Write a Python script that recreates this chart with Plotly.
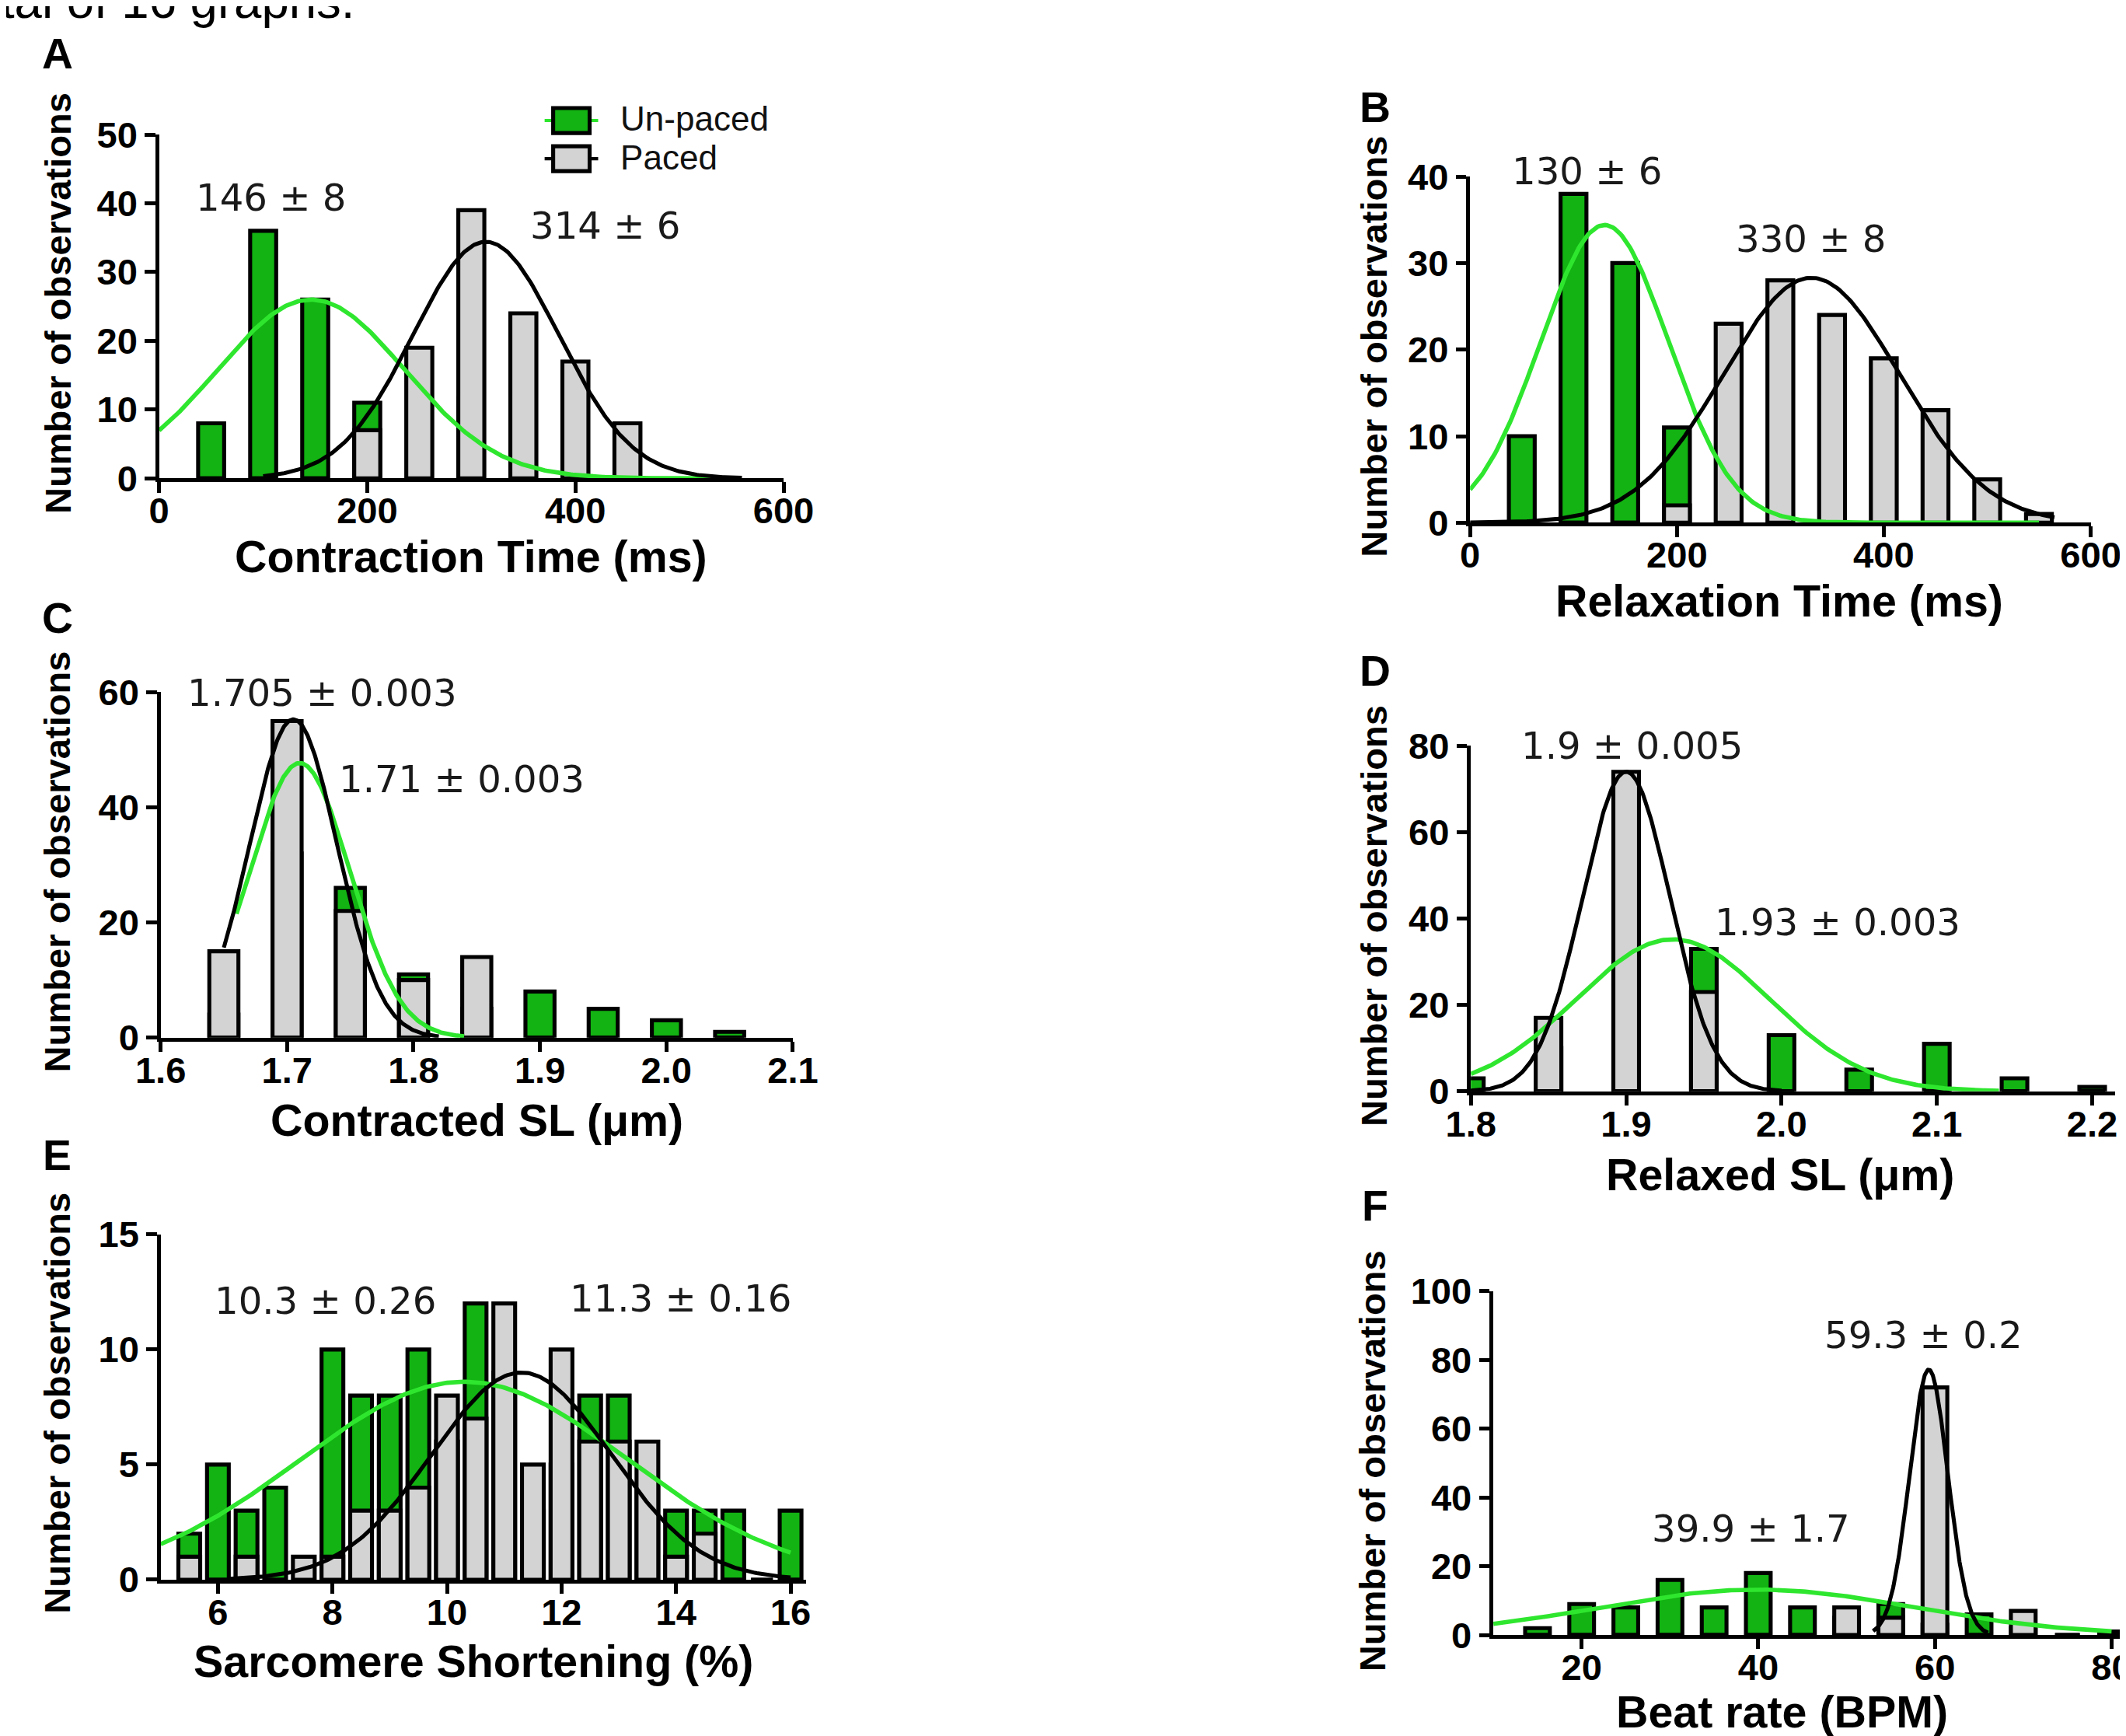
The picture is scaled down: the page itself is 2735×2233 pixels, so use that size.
import numpy as np
import plotly.graph_objects as go

# The photographed page shows the figure scaled by ~0.976 and shifted by ~34 px,
# so positions are given in reference-picture pixels (R) and mapped back.
SC, OFF = 0.976, 34
WF = int(np.ceil((2735 - OFF) / SC))
HF = int(np.ceil((2233 - OFF) / SC))

# ---------------- data ----------------
a_bins = [50, 100, 150, 200, 250, 300, 350, 400, 450]
a_unpaced = [8, 36, 26, 11, 0, 0, 0, 0, 0]
a_paced = [0, 0, 0, 7, 19, 39, 24, 17, 8]

b_bins = [50, 100, 150, 200, 250, 300, 350, 400, 450, 500, 550]
b_unpaced = [10, 38, 30, 11, 0, 0, 0, 0, 0, 0, 0]
b_paced = [0, 0, 0, 2, 23, 28, 24, 19, 13, 5, 1]

c_bins = [1.65, 1.70, 1.75, 1.80, 1.85, 1.90, 1.95, 2.00, 2.05]
c_unpaced = [4, 32, 26, 11, 5, 8, 5, 3, 1]
c_paced = [15, 55, 22, 10, 14, 0, 0, 0, 0]

d_bins = [1.80, 1.85, 1.90, 1.95, 2.00, 2.05, 2.10, 2.15, 2.20]
d_unpaced = [3, 10, 30, 33, 13, 5, 11, 3, 1]
d_paced = [0, 17, 74, 23, 0, 0, 0, 0, 0]

e_bins = [5.5, 6.0, 6.5, 7.0, 7.5, 8.0, 8.5, 9.0, 9.5, 10.0, 10.5, 11.0,
          11.5, 12.0, 12.5, 13.0, 13.5, 14.0, 14.5, 15.0, 15.5, 16.0]
e_unpaced = [2, 5, 3, 4, 0, 10, 8, 8, 10, 6, 12, 9, 3, 5, 8, 8, 4, 3, 3, 3, 0, 3]
e_paced = [1, 0, 1, 0, 1, 1, 3, 3, 4, 8, 7, 12, 5, 10, 6, 6, 6, 1, 2, 0, 0, 0]

f_bins = [15, 20, 25, 30, 35, 40, 45, 50, 55, 60, 65, 70, 75, 80]
f_unpaced = [2, 9, 8, 16, 8, 18, 8, 5, 9, 3, 6, 2, 0, 1]
f_paced = [0, 0, 0, 0, 0, 0, 0, 8, 5, 72, 0, 7, 0, 0]

# Gaussian fit parameters: [amplitude, mean, sd, x_start, x_end]
a_fit_unpaced = [26.0, 146, 90, 0, 540]
a_fit_paced = [34.4, 314, 70, 100, 560]
b_fit_unpaced = [34.4, 130, 62, 0, 550]
b_fit_paced = [28.3, 330, 85, 0, 565]
c_fit_unpaced = [47.7, 1.71, 0.0396, 1.66, 1.84]
c_fit_paced = [55.3, 1.705, 0.0346, 1.65, 1.82]
d_fit_unpaced = [35.2, 1.93, 0.0623, 1.80, 2.14]
d_fit_paced = [74.0, 1.90, 0.0282, 1.80, 2.00]
e_fit_unpaced = [8.6, 10.3, 2.86, 5.0, 16.0]
e_fit_paced = [9.0, 11.3, 1.563, 6.2, 16.0]
f_fit_unpaced = [13.2, 39.9, 17.8, 10, 80]
f_fit_paced = [77.2, 59.3, 2.17, 53, 66]

stats = {
    "A": ["146 ± 8", "314 ± 6"],
    "B": ["130 ± 6", "330 ± 8"],
    "C": ["1.705 ± 0.003", "1.71 ± 0.003"],
    "D": ["1.9 ± 0.005", "1.93 ± 0.003"],
    "E": ["10.3 ± 0.26", "11.3 ± 0.16"],
    "F": ["59.3 ± 0.2", "39.9 ± 1.7"],
}
x_titles = {
    "A": "Contraction Time (ms)", "B": "Relaxation Time (ms)",
    "C": "Contracted SL (μm)", "D": "Relaxed SL (μm)",
    "E": "Sarcomere Shortening (%)", "F": "Beat rate (BPM)",
}
y_title = "Number of observations"
legend_labels = ["Un-paced", "Paced"]
top_text = "total of 16 graphs."

# ---------------- styling (sizes as seen in the picture) ----------------
GREEN_BAR = "#12b312"
GREEN_LINE = "#2fe62f"
GRAY_BAR = "#d3d3d3"
AX_FONT = "Liberation Sans, Arial, sans-serif"
ST_FONT = "DejaVu Sans, Verdana, sans-serif"


def S(v):
    return v / SC


LW = S(5)


def X(r):
    return (r - OFF) / SC / WF


def Y(r):
    return 1 - (r - OFF) / SC / HF


panels = {
    "A": dict(xd=(198, 1003), yd=(172, 614), xr=[0, 600], yr=[0, 50],
              xt=[0, 200, 400, 600], yt=[0, 10, 20, 30, 40, 50], fmt="",
              bins=a_bins, un=a_unpaced, pa=a_paced, fu=a_fit_unpaced, fp=a_fit_paced, bw=25),
    "B": dict(xd=(1888, 2688), yd=(226, 671), xr=[0, 600], yr=[0, 40],
              xt=[0, 200, 400, 600], yt=[0, 10, 20, 30, 40], fmt="",
              bins=b_bins, un=b_unpaced, pa=b_paced, fu=b_fit_unpaced, fp=b_fit_paced, bw=25),
    "C": dict(xd=(200, 1015), yd=(889, 1333), xr=[1.6, 2.1], yr=[0, 60],
              xt=[1.6, 1.7, 1.8, 1.9, 2.0, 2.1], yt=[0, 20, 40, 60], fmt=".1f",
              bins=c_bins, un=c_unpaced, pa=c_paced, fu=c_fit_unpaced, fp=c_fit_paced, bw=0.023),
    "D": dict(xd=(1889, 2720), yd=(958, 1402), xr=[1.8, 2.215], yr=[0, 80],
              xt=[1.8, 1.9, 2.0, 2.1, 2.2], yt=[0, 20, 40, 60, 80], fmt=".1f",
              bins=d_bins, un=d_unpaced, pa=d_paced, fu=d_fit_unpaced, fp=d_fit_paced, bw=0.0165),
    "E": dict(xd=(200, 1032), yd=(1586, 2030), xr=[5.0, 16.27], yr=[0, 15],
              xt=[6, 8, 10, 12, 14, 16], yt=[0, 5, 10, 15], fmt="",
              bins=e_bins, un=e_unpaced, pa=e_paced, fu=e_fit_unpaced, fp=e_fit_paced, bw=0.38),
    "F": dict(xd=(1918, 2735), yd=(1659, 2101), xr=[10, 81.76], yr=[0, 100],
              xt=[20, 40, 60, 80], yt=[0, 20, 40, 60, 80, 100], fmt="",
              bins=f_bins, un=f_unpaced, pa=f_paced, fu=f_fit_unpaced, fp=f_fit_paced, bw=2.8),
}

letter_pos = {"A": (67, 68), "B": (1766, 137), "C": (67, 794),
              "D": (1766, 862), "E": (67, 1484), "F": (1766, 1549)}
xtitle_pos = {"A": (600, 715), "B": (2287, 772), "C": (608, 1439),
              "D": (2288, 1509), "E": (603, 2135), "F": (2290, 2200)}
ytitle_pos = {"A": (67, 389), "B": (1764, 444), "C": (67, 1107),
              "D": (1764, 1176), "E": (67, 1803), "F": (1762, 1877)}
stat_pos = {"A": [(342, 253), (773, 289)], "B": [(2039, 219), (2327, 306)],
            "C": [(408, 890), (588, 1001)], "D": [(2097, 958), (2362, 1184)],
            "E": [(412, 1671), (870, 1668)], "F": [(2473, 1715), (2250, 1964)]}


def gauss(p):
    amp, mu, sd, x0, x1 = p
    xs = np.linspace(x0, x1, 300)
    return xs, amp * np.exp(-((xs - mu) ** 2) / (2 * sd ** 2))


fig = go.Figure()
layout = dict(
    width=WF, height=HF, margin=dict(l=0, r=0, t=0, b=0, pad=0),
    paper_bgcolor="white", plot_bgcolor="rgba(0,0,0,0)",
    barmode="overlay", showlegend=False,
)
annotations = []
shapes = []

tickfont = dict(family=AX_FONT, size=S(46), color="black", weight="bold")

for i, (key, p) in enumerate(panels.items(), start=1):
    xa = "x" if i == 1 else f"x{i}"
    ya = "y" if i == 1 else f"y{i}"
    xname = "xaxis" if i == 1 else f"xaxis{i}"
    yname = "yaxis" if i == 1 else f"yaxis{i}"

    fig.add_trace(go.Bar(x=p["bins"], y=p["un"], width=p["bw"], xaxis=xa, yaxis=ya,
                         marker=dict(color=GREEN_BAR, line=dict(color="black", width=LW)),
                         name="Un-paced", cliponaxis=False))
    fig.add_trace(go.Bar(x=p["bins"], y=p["pa"], width=p["bw"], xaxis=xa, yaxis=ya,
                         marker=dict(color=GRAY_BAR, line=dict(color="black", width=LW)),
                         name="Paced", cliponaxis=False))
    gx, gy = gauss(p["fu"])
    fig.add_trace(go.Scatter(x=gx, y=gy, mode="lines", xaxis=xa, yaxis=ya,
                             line=dict(color=GREEN_LINE, width=S(5.5)), cliponaxis=False))
    gx, gy = gauss(p["fp"])
    fig.add_trace(go.Scatter(x=gx, y=gy, mode="lines", xaxis=xa, yaxis=ya,
                             line=dict(color="black", width=S(5)), cliponaxis=False))

    common = dict(showline=True, linecolor="black", linewidth=LW, ticks="outside",
                  ticklen=S(13), tickwidth=LW, tickcolor="black", showgrid=False,
                  zeroline=False, tickmode="array", tickfont=tickfont)
    xaxis = dict(common, domain=[max(0, X(p["xd"][0])), min(1, X(p["xd"][1]))], range=p["xr"],
                 tickvals=p["xt"], anchor=ya, ticklabelstandoff=-17)
    if p["fmt"]:
        xaxis["ticktext"] = [format(v, p["fmt"]) for v in p["xt"]]
    yaxis = dict(common, domain=[Y(p["yd"][1]), Y(p["yd"][0])], range=p["yr"],
                 tickvals=p["yt"], anchor=xa)
    layout[xname] = xaxis
    layout[yname] = yaxis

    lx, ly = letter_pos[key]
    annotations.append(dict(text=key, x=X(lx), y=Y(ly), xref="paper", yref="paper",
                            showarrow=False, xanchor="center", yanchor="middle",
                            font=dict(family=AX_FONT, size=S(54), color="black", weight="bold")))
    tx, ty = xtitle_pos[key]
    annotations.append(dict(text=x_titles[key], x=X(tx), y=Y(ty), xref="paper", yref="paper",
                            showarrow=False, xanchor="center", yanchor="middle",
                            font=dict(family=AX_FONT, size=S(56), color="black", weight="bold")))
    tx, ty = ytitle_pos[key]
    annotations.append(dict(text=y_title, x=X(tx), y=Y(ty), xref="paper", yref="paper",
                            showarrow=False, xanchor="center", yanchor="middle", textangle=-90,
                            font=dict(family=AX_FONT, size=S(46), color="black", weight="bold")))
    for txt, (sx, sy) in zip(stats[key], stat_pos[key]):
        annotations.append(dict(text=txt, x=X(sx), y=Y(sy), xref="paper", yref="paper",
                                showarrow=False, xanchor="center", yanchor="middle",
                                font=dict(family=ST_FONT, size=S(47), color="#1a1a1a")))

# legend (panel A), drawn by hand
shapes += [
    dict(type="line", xref="paper", yref="paper", x0=X(695), x1=X(764), y0=Y(154), y1=Y(154),
         line=dict(color=GREEN_LINE, width=S(4))),
    dict(type="rect", xref="paper", yref="paper", x0=X(706), x1=X(753), y0=Y(170), y1=Y(138),
         fillcolor=GREEN_BAR, line=dict(color="black", width=LW)),
    dict(type="line", xref="paper", yref="paper", x0=X(695), x1=X(764), y0=Y(203), y1=Y(203),
         line=dict(color="black", width=S(4))),
    dict(type="rect", xref="paper", yref="paper", x0=X(706), x1=X(753), y0=Y(219), y1=Y(187),
         fillcolor=GRAY_BAR, line=dict(color="black", width=LW)),
]
for txt, ly in zip(legend_labels, [151, 201]):
    annotations.append(dict(text=txt, x=X(791), y=Y(ly), xref="paper", yref="paper",
                            showarrow=False, xanchor="left", yanchor="middle",
                            font=dict(family=AX_FONT, size=S(43), color="#111111")))

# line of page text cut by the top edge of the picture
annotations.append(dict(text=top_text, x=X(452), y=Y(37), xref="paper", yref="paper",
                        showarrow=False, xanchor="right", yanchor="bottom",
                        font=dict(family=AX_FONT, size=S(62), color="black")))

layout["annotations"] = annotations
layout["shapes"] = shapes
fig.update_layout(**layout)
fig.write_html("out.html")
